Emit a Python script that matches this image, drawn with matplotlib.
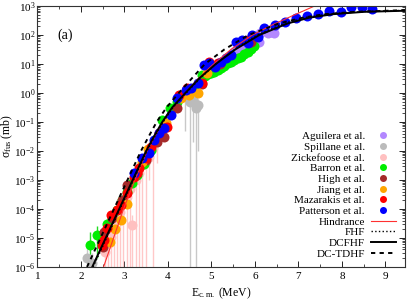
import matplotlib
matplotlib.use('Agg')
import matplotlib.pyplot as plt
from matplotlib.ticker import FixedLocator, MultipleLocator, NullFormatter, LogFormatterMathtext

plt.rcParams['font.family'] = ['Liberation Serif', 'DejaVu Serif']
plt.rcParams['mathtext.fontset'] = 'custom'
plt.rcParams['mathtext.rm'] = 'Liberation Serif'
plt.rcParams['mathtext.it'] = 'Liberation Serif:italic'

# ---- theory curves (E in MeV, sigma in mb) ----
E_dcfhf = [2.26, 2.57, 2.88, 3.19, 3.50, 3.68, 3.87, 4.10, 4.40, 4.72, 5.10, 5.55, 6.10, 6.75, 7.25, 7.80, 8.50, 9.45]
s_dcfhf = [1e-6, 1e-5, 1e-4, 1e-3, 1e-2, 3.2e-2, 0.1, 0.32, 1.0, 3.2, 10, 32, 100, 251, 398, 525, 631, 690]

E_fhf = [2.28, 2.59, 2.90, 3.21, 3.52, 3.70, 3.89, 4.12, 4.42, 4.74, 5.10, 5.53, 6.05, 6.70, 7.20, 7.80, 8.50, 9.45]
s_fhf = [1e-6, 1e-5, 1e-4, 1e-3, 1e-2, 3.2e-2, 0.1, 0.32, 1.0, 3.2, 10, 32, 100, 263, 417, 550, 650, 710]

E_tdhf = [2.14, 2.45, 2.76, 3.07, 3.38, 3.56, 3.74, 3.97, 4.25, 4.55, 4.85, 5.30, 5.85, 6.55, 7.10, 7.60, 8.30, 9.45]
s_tdhf = [1e-6, 1e-5, 1e-4, 1e-3, 1e-2, 3.2e-2, 0.1, 0.32, 1.0, 3.2, 10, 32, 100, 251, 398, 525, 631, 724]

E_hind = [2.52, 2.75, 2.98, 3.24, 3.52, 3.70, 3.88, 4.10, 4.40, 4.70, 5.05, 5.45, 5.94, 6.40, 6.90, 7.37, 7.50]
s_hind = [1e-6, 1e-5, 1e-4, 1e-3, 1e-2, 3.2e-2, 0.1, 0.32, 1.0, 3.2, 10, 32, 100, 224, 490, 1000, 1200]

# ---- experimental data ----
E_agu = [5.55, 5.7, 5.8, 5.95, 6.1, 6.12, 6.3, 6.38, 6.45]
s_agu = [28, 40, 46, 52, 58, 115, 120, 126, 117]

E_spi = [2.13, 2.26, 4.40, 4.50, 4.58, 4.64, 4.70]
s_spi = [2e-6, 1.4e-6, 0.8, 0.5, 0.6, 0.3, 0.4]
lo_spi = [1e-7, 1e-7, 0.05, 1e-7, 0.02, 1e-7, 0.01]
hi_spi = [4e-6, 3e-6, 1.2, 0.8, 0.9, 0.5, 0.6]

E_zic = [2.55, 2.62, 2.68, 2.75, 2.82, 2.90, 2.97, 3.05, 3.12, 3.18, 3.26, 3.33, 3.41, 3.49, 3.57, 3.66, 3.75]
s_zic = [3.2e-6, 6.3e-6, 1.1e-5, 2.5e-5, 5e-5, 7.9e-5, 1.6e-4, 2.5e-4, 5e-4, 2.8e-5, 1e-3, 1.8e-3, 3.2e-3, 4.5e-3, 6.3e-3, 1.3e-2, 2.5e-2]
lo_zic = [1e-7, 1e-7, 1e-7, 1e-7, 1e-7, 1e-7, 1e-7, 1e-7, 1e-7, 1e-7, 1e-7, 1e-7, 1e-7, 1e-7, 1e-3, 1e-7, 4e-3]
hi_zic = [8e-6, 1.5e-5, 2.5e-5, 5e-5, 1e-4, 1.6e-4, 3e-4, 4.5e-4, 9e-4, 6e-5, 1.8e-3, 3e-3, 5.5e-3, 7e-3, 1e-2, 2e-2, 4e-2]

E_bar = [2.20, 2.36, 2.61, 2.84, 2.95, 3.07, 3.18, 3.30, 3.45, 3.60, 3.75, 3.87, 4.05, 4.2, 4.4, 4.6,
         4.79, 4.85, 4.91, 4.99, 5.07, 5.15, 5.23, 5.30, 5.37, 5.45, 5.53, 5.61, 5.69, 5.76, 5.83, 5.91, 5.99]
s_bar = [5.8e-6, 1.26e-5, 3.0e-5, 9.3e-5, 2.0e-4, 3.9e-4, 7.9e-4, 1.5e-3, 3.5e-3, 1.1e-2, 2.5e-2, 0.12, 0.3, 0.5, 1.0, 1.5,
         4.2, 4.0, 4.6, 5.0, 5.5, 6.3, 7.2, 8.5, 10.5, 12, 14, 16, 18, 22, 26, 33, 42]
lo_bar = [1e-7, 2e-6, 1.5e-5, 6e-5, 1.4e-4, 3e-4, 6e-4, 1.2e-3, 2.8e-3, 9e-3, 2e-2, 0.1, 0.25, 0.4, 0.8, 1.2,
          4.0, 3.8, 4.4, 4.8, 5.3, 6.0, 6.9, 8.1, 10, 11.5, 13.4, 15.3, 17.2, 21, 25, 31.5, 40]
hi_bar = [1.6e-5, 2.6e-5, 4.5e-5, 1.2e-4, 2.6e-4, 4.8e-4, 9.8e-4, 1.8e-3, 4.2e-3, 1.3e-2, 3e-2, 0.14, 0.35, 0.6, 1.2, 1.8,
          4.4, 4.2, 4.8, 5.2, 5.7, 6.6, 7.5, 8.9, 11, 12.5, 14.6, 16.7, 18.8, 23, 27, 34.5, 44]

E_high = [2.50, 2.54, 2.72, 2.95, 3.07, 3.28, 3.50, 3.74, 3.92, 4.20, 4.45, 4.79, 5.2, 5.92]
s_high = [4.9e-6, 1.6e-5, 4.9e-5, 2.0e-4, 6.8e-4, 1.7e-3, 5.0e-3, 2.0e-2, 3.0e-2, 0.30, 1.0, 2.0, 10, 58]

E_jia = [2.66, 2.78, 2.93, 3.05, 3.41, 3.55, 3.95, 4.30, 4.49, 4.68, 4.72, 4.89]
s_jia = [7.2e-6, 2.0e-5, 4.2e-5, 1.5e-4, 4.2e-3, 1.2e-2, 0.09, 0.7, 0.85, 1.0, 2.2, 4.9]

E_maz = [2.49, 2.54, 2.59, 2.70, 2.82, 2.93, 3.05, 3.23, 3.28, 3.34, 3.50, 3.62, 3.80, 3.97, 4.26, 4.45, 4.79, 4.95, 5.14, 5.83]
s_maz = [5.8e-6, 8.5e-6, 2.2e-5, 6.3e-5, 9.3e-5, 1.4e-4, 3.5e-4, 1.26e-3, 1.7e-3, 2.6e-3, 5.8e-3, 1.4e-2, 4.2e-2, 6.8e-2, 0.85, 1.5, 2.2, 11.7, 10.7, 68]

E_pat = [3.23, 3.41, 3.57, 3.69, 3.80, 3.92, 4.08, 4.20, 4.42, 4.54, 4.68, 4.84, 4.95, 5.09, 5.23, 5.34, 5.46,
         5.57, 5.71, 5.83, 5.94, 6.08, 6.22, 6.47, 6.70, 6.95, 7.20, 7.46, 7.71, 7.97, 8.22, 8.47, 8.70]
s_pat = [1.7e-3, 5.8e-3, 8.5e-3, 2.4e-2, 4.2e-2, 6.3e-2, 0.17, 0.68, 1.26, 1.5, 2.2, 9.3, 10.7, 8, 11.7, 16, 20,
         58, 68, 52, 100, 85, 174, 219, 282, 389, 457, 525, 676, 617, 933, 933, 794]

y_major = [1e-6, 1e-5, 1e-4, 1e-3, 1e-2, 1e-1, 1e0, 1e1, 1e2, 1e3]

fig = plt.figure(figsize=(4.07, 3.03), dpi=100)
ax = fig.add_axes([0.092, 0.119, 0.903, 0.861])

ms = 7.2
# error bars first (light)
for E, s, lo, hi, c in [(E_spi, s_spi, lo_spi, hi_spi, '#c8c8c8'),
                        (E_zic, s_zic, lo_zic, hi_zic, '#ffc8c8'),
                        (E_bar, s_bar, lo_bar, hi_bar, '#22dd22')]:
    yerr = [[v - l for v, l in zip(s, lo)], [h - v for v, h in zip(s, hi)]]
    ax.errorbar(E, s, yerr=yerr, fmt='none', ecolor=c, elinewidth=1.0, capsize=0)

h_agu, = ax.plot(E_agu, s_agu, 'o', color='#b388ff', ms=ms, mec='none', label='Aguilera et al.')
h_spi, = ax.plot(E_spi, s_spi, 'o', color='#bbbbbb', ms=ms, mec='none', label='Spillane et al.')
h_zic, = ax.plot(E_zic, s_zic, 'o', color='#ffc0c0', ms=ms, mec='none', label='Zickefoose et al.')
h_bar, = ax.plot(E_bar, s_bar, 'o', color='#00ee00', ms=ms, mec='none', label='Barron et al.')
h_high, = ax.plot(E_high, s_high, 'o', color='#a52a2a', ms=ms, mec='none', label='High et al.')
h_jia, = ax.plot(E_jia, s_jia, 'o', color='#ffa500', ms=ms, mec='none', label='Jiang et al.')
h_maz, = ax.plot(E_maz, s_maz, 'o', color='#ff0000', ms=ms, mec='none', label='Mazarakis et al.')
h_pat, = ax.plot(E_pat, s_pat, 'o', color='#0000ff', ms=ms, mec='none', label='Patterson et al.')

h_hind, = ax.plot(E_hind, s_hind, '-', color='#ff3030', lw=0.8, label='Hindrance')
h_fhf, = ax.plot(E_fhf, s_fhf, ':', color='black', lw=1.0, label='FHF')
h_dcf, = ax.plot(E_dcfhf, s_dcfhf, '-', color='black', lw=1.4, label='DCFHF')
h_tdhf, = ax.plot(E_tdhf, s_tdhf, '--', color='black', lw=1.4, dashes=(2.2, 2.2), label='DC-TDHF')

ax.set_yscale('log')
ax.set_xlim(1, 9.45)
ax.set_ylim(1e-6, 1e3)
ax.xaxis.set_major_locator(MultipleLocator(1))
ax.xaxis.set_minor_locator(MultipleLocator(0.5))
ax.yaxis.set_major_locator(FixedLocator(y_major))
ax.yaxis.set_minor_locator(FixedLocator([m * d for d in y_major[:-1] for m in range(2, 10)]))
ax.yaxis.set_minor_formatter(NullFormatter())
ax.yaxis.set_major_formatter(LogFormatterMathtext())
ax.tick_params(which='both', direction='in', top=True, right=True, labelsize=8)
ax.tick_params(axis='x', pad=4)
ax.tick_params(axis='y', pad=1.5)
ax.tick_params(which='major', length=4, width=0.6)
ax.tick_params(which='minor', length=2, width=0.5)
for sp in ax.spines.values():
    sp.set_linewidth(0.8)
    sp.set_color('#333333')

ax.set_xlabel(r'E$_{\mathrm{c.m.}}$ (MeV)', fontsize=8.5)
ax.xaxis.set_label_coords(0.5, -0.072)
ax.set_ylabel(r'σ$_{\mathrm{fus}}$ (mb)', fontsize=8.5)
ax.yaxis.set_label_coords(-0.062, 0.5)
ax.text(0.076, 0.889, '(a)', transform=ax.transAxes, fontsize=10, ha='center', va='center')

handles = [h_agu, h_spi, h_zic, h_bar, h_high, h_jia, h_maz, h_pat, h_hind, h_fhf, h_dcf, h_tdhf]
ax.legend(handles=handles, loc='lower right', markerfirst=False, frameon=False, fontsize=8,
          handlelength=2.3, handletextpad=0.5, labelspacing=0.08, markerscale=0.7,
          borderaxespad=0.2, borderpad=0.2, bbox_to_anchor=(0.988, 0.015))

fig.savefig('out.png', dpi=100)
